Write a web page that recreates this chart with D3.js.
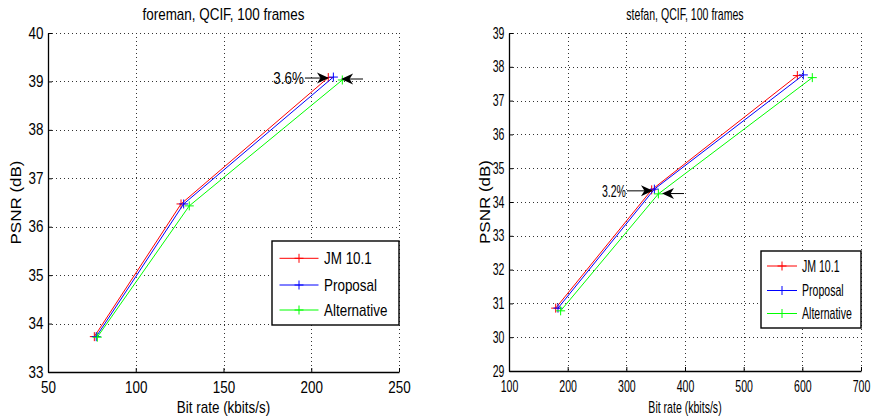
<!DOCTYPE html>
<html>
<head>
<meta charset="utf-8">
<script src="https://cdn.jsdelivr.net/npm/d3@7"></script>
<style>
  html, body { margin: 0; padding: 0; background: #fff; }
  svg { display: block; }
  text { font-family: "Liberation Sans", Arial, Helvetica, sans-serif; fill: #000; }
</style>
</head>
<body>
<svg id="chart" width="871" height="416"></svg>
<script>
// ---- foreman sequence (QCIF, 100 frames) ----
const foremanXTicks = [50, 100, 150, 200, 250];
const foremanYTicks = [33, 34, 35, 36, 37, 38, 39, 40];
const foremanJMRate   = [76.4, 125.8, 209.7];
const foremanJMPsnr   = [33.73, 36.47, 39.08];
const foremanPropRate = [77.5, 127.3, 212.6];
const foremanPropPsnr = [33.73, 36.47, 39.09];
const foremanAltRate  = [78.1, 130.5, 217.7];
const foremanAltPsnr  = [33.72, 36.43, 39.03];
// annotation: label position and two arrows [tailRate, tipRate, psnr]
const foremanNoteText = "3.6%";
const foremanNoteAt   = [195.8, 39.07];
const foremanArrows   = [[196.4, 210.1, 39.07], [229.5, 217.0, 39.05]];

// ---- stefan sequence (QCIF, 100 frames) ----
const stefanXTicks = [100, 200, 300, 400, 500, 600, 700];
const stefanYTicks = [29, 30, 31, 32, 33, 34, 35, 36, 37, 38, 39];
const stefanJMRate   = [179.6, 343.2, 591.5];
const stefanJMPsnr   = [30.86, 34.36, 37.74];
const stefanPropRate = [183.5, 347.8, 601.7];
const stefanPropPsnr = [30.86, 34.38, 37.76];
const stefanAltRate  = [188.0, 354.6, 617.0];
const stefanAltPsnr  = [30.78, 34.24, 37.68];
const stefanNoteText = "3.2%";
const stefanNoteAt   = [299.4, 34.33];
const stefanArrows   = [[301.1, 345.4, 34.33], [398.3, 360.8, 34.25]];

const seriesNames  = ["JM 10.1", "Proposal", "Alternative"];
const seriesColors = ["#ff0000", "#0000ff", "#00ff00"];

const svg = d3.select("#chart");

function zip(xs, ys) { return xs.map((x, i) => [x, ys[i]]); }

function drawPanel(opt) {
  const g = svg.append("g");
  const x = d3.scaleLinear().domain(opt.xDomain).range([opt.left, opt.right]);
  const y = d3.scaleLinear().domain(opt.yDomain).range([opt.bottom, opt.top]);

  // dotted grid
  const grid = g.append("g").attr("stroke", "#333").attr("stroke-width", 1)
    .attr("stroke-dasharray", "1,3");
  grid.selectAll("line.gx").data(opt.xTicks).join("line")
    .attr("x1", d => Math.round(x(d)) + 0.5).attr("x2", d => Math.round(x(d)) + 0.5)
    .attr("y1", opt.top).attr("y2", opt.bottom);
  grid.selectAll("line.gy").data(opt.yTicks).join("line")
    .attr("y1", d => Math.round(y(d)) + 0.5).attr("y2", d => Math.round(y(d)) + 0.5)
    .attr("x1", opt.left).attr("x2", opt.right);

  // axes with inward ticks
  const fmt = d3.format("d");
  const ax = g.append("g").attr("transform", `translate(0,${opt.bottom})`)
    .call(d3.axisBottom(x).tickValues(opt.xTicks).tickFormat(fmt)
      .tickSize(-4).tickPadding(10).tickSizeOuter(0));
  const ay = g.append("g").attr("transform", `translate(${opt.left},0)`)
    .call(d3.axisLeft(y).tickValues(opt.yTicks).tickFormat(fmt)
      .tickSize(-4).tickPadding(4.5).tickSizeOuter(0));
  [ax, ay].forEach(a => {
    a.select(".domain").attr("stroke", "#000").attr("stroke-width", 1.3);
    a.selectAll(".tick line").attr("stroke", "#000");
    a.selectAll(".tick text").attr("class", "h").style("font-size", "16px");
    a.attr("font-family", null).attr("font-size", null);
  });

  // series
  const line = d3.line().x(d => x(d[0])).y(d => y(d[1]));
  opt.series.forEach((s, i) => {
    const pts = zip(s[0], s[1]);
    g.append("path").datum(pts).attr("d", line).attr("fill", "none")
      .attr("stroke", seriesColors[i]).attr("stroke-width", 1);
    g.append("g").selectAll("path").data(pts).join("path")
      .attr("d", d => `M${x(d[0]) - 4.5},${y(d[1])}h9M${x(d[0])},${y(d[1]) - 4.5}v9`)
      .attr("stroke", seriesColors[i]).attr("stroke-width", 1);
  });

  // annotation
  g.append("text").attr("class", "h")
    .attr("x", x(opt.noteAt[0])).attr("y", y(opt.noteAt[1])).attr("dy", "0.36em")
    .attr("text-anchor", "end").style("font-size", "16px").text(opt.noteText);
  opt.arrows.forEach(a => {
    const x0 = x(a[0]), x1 = x(a[1]), yy = y(a[2]);
    const dir = Math.sign(x1 - x0);
    g.append("line").attr("x1", x0).attr("x2", x1 - dir * 6).attr("y1", yy).attr("y2", yy)
      .attr("stroke", "#000").attr("stroke-width", 1);
    g.append("path")
      .attr("d", `M${x1},${yy}L${x1 - dir * 12},${yy - 5.5}L${x1 - dir * 8.5},${yy}L${x1 - dir * 12},${yy + 5.5}Z`)
      .attr("fill", "#000");
  });

  // title and axis labels
  g.append("text").attr("class", "h").attr("x", (opt.left + opt.right) / 2).attr("y", 20)
    .attr("text-anchor", "middle").style("font-size", "16px").text(opt.title);
  g.append("text").attr("class", "h").attr("x", (opt.left + opt.right) / 2).attr("y", 413)
    .attr("text-anchor", "middle").style("font-size", "16px").text("Bit rate (kbits/s)");
  g.append("text")
    .attr("transform", `translate(${opt.yLabelX},${(opt.top + opt.bottom) / 2}) scale(${opt.rotSquash},1) rotate(-90)`)
    .attr("text-anchor", "middle").style("font-size", "17px").text("PSNR (dB)");

  // legend
  const L = opt.legend;
  const lg = g.append("g");
  lg.append("rect").attr("x", L.x0).attr("y", L.y0).attr("width", L.x1 - L.x0).attr("height", L.y1 - L.y0)
    .attr("fill", "#fff").attr("stroke", "#000").attr("stroke-width", 1.4);
  seriesNames.forEach((name, i) => {
    const yy = L.rows[i];
    const mx = (L.lx0 + L.lx1) / 2;
    lg.append("line").attr("x1", L.lx0).attr("x2", L.lx1).attr("y1", yy).attr("y2", yy)
      .attr("stroke", seriesColors[i]).attr("stroke-width", 1);
    lg.append("path").attr("d", `M${mx - 4.5},${yy}h9M${mx},${yy - 4.5}v9`)
      .attr("stroke", seriesColors[i]).attr("stroke-width", 1);
    lg.append("text").attr("class", "h").attr("x", L.tx).attr("y", yy).attr("dy", "0.36em")
      .style("font-size", "16px").text(name);
  });

  // narrow the horizontal lettering about each label's anchor point
  g.selectAll("text.h").each(function () {
    const t = d3.select(this);
    const ax0 = +t.attr("x") || 0;
    t.attr("transform", `translate(${ax0},0) scale(${opt.squash},1) translate(${-ax0},0)`);
  });
}

drawPanel({
  left: 48, right: 399, top: 33, bottom: 372,
  xDomain: [50, 250], yDomain: [33, 40], xTicks: foremanXTicks, yTicks: foremanYTicks,
  series: [[foremanJMRate, foremanJMPsnr], [foremanPropRate, foremanPropPsnr], [foremanAltRate, foremanAltPsnr]],
  noteText: foremanNoteText, noteAt: foremanNoteAt, arrows: foremanArrows,
  title: "foreman, QCIF, 100 frames", yLabelX: 20.5, squash: 0.84, rotSquash: 0.88,
  legend: { x0: 272, x1: 399, y0: 241, y1: 325, rows: [258.3, 285, 310], lx0: 279.5, lx1: 318.5, tx: 324 }
});

drawPanel({
  left: 509, right: 861, top: 33, bottom: 371,
  xDomain: [100, 700], yDomain: [29, 39], xTicks: stefanXTicks, yTicks: stefanYTicks,
  series: [[stefanJMRate, stefanJMPsnr], [stefanPropRate, stefanPropPsnr], [stefanAltRate, stefanAltPsnr]],
  noteText: stefanNoteText, noteAt: stefanNoteAt, arrows: stefanArrows,
  title: "stefan, QCIF, 100 frames", yLabelX: 490, squash: 0.66, rotSquash: 0.85,
  legend: { x0: 761, x1: 861, y0: 251, y1: 328, rows: [266, 290.5, 313.5], lx0: 767, lx1: 797, tx: 802 }
});
</script>
</body>
</html>
